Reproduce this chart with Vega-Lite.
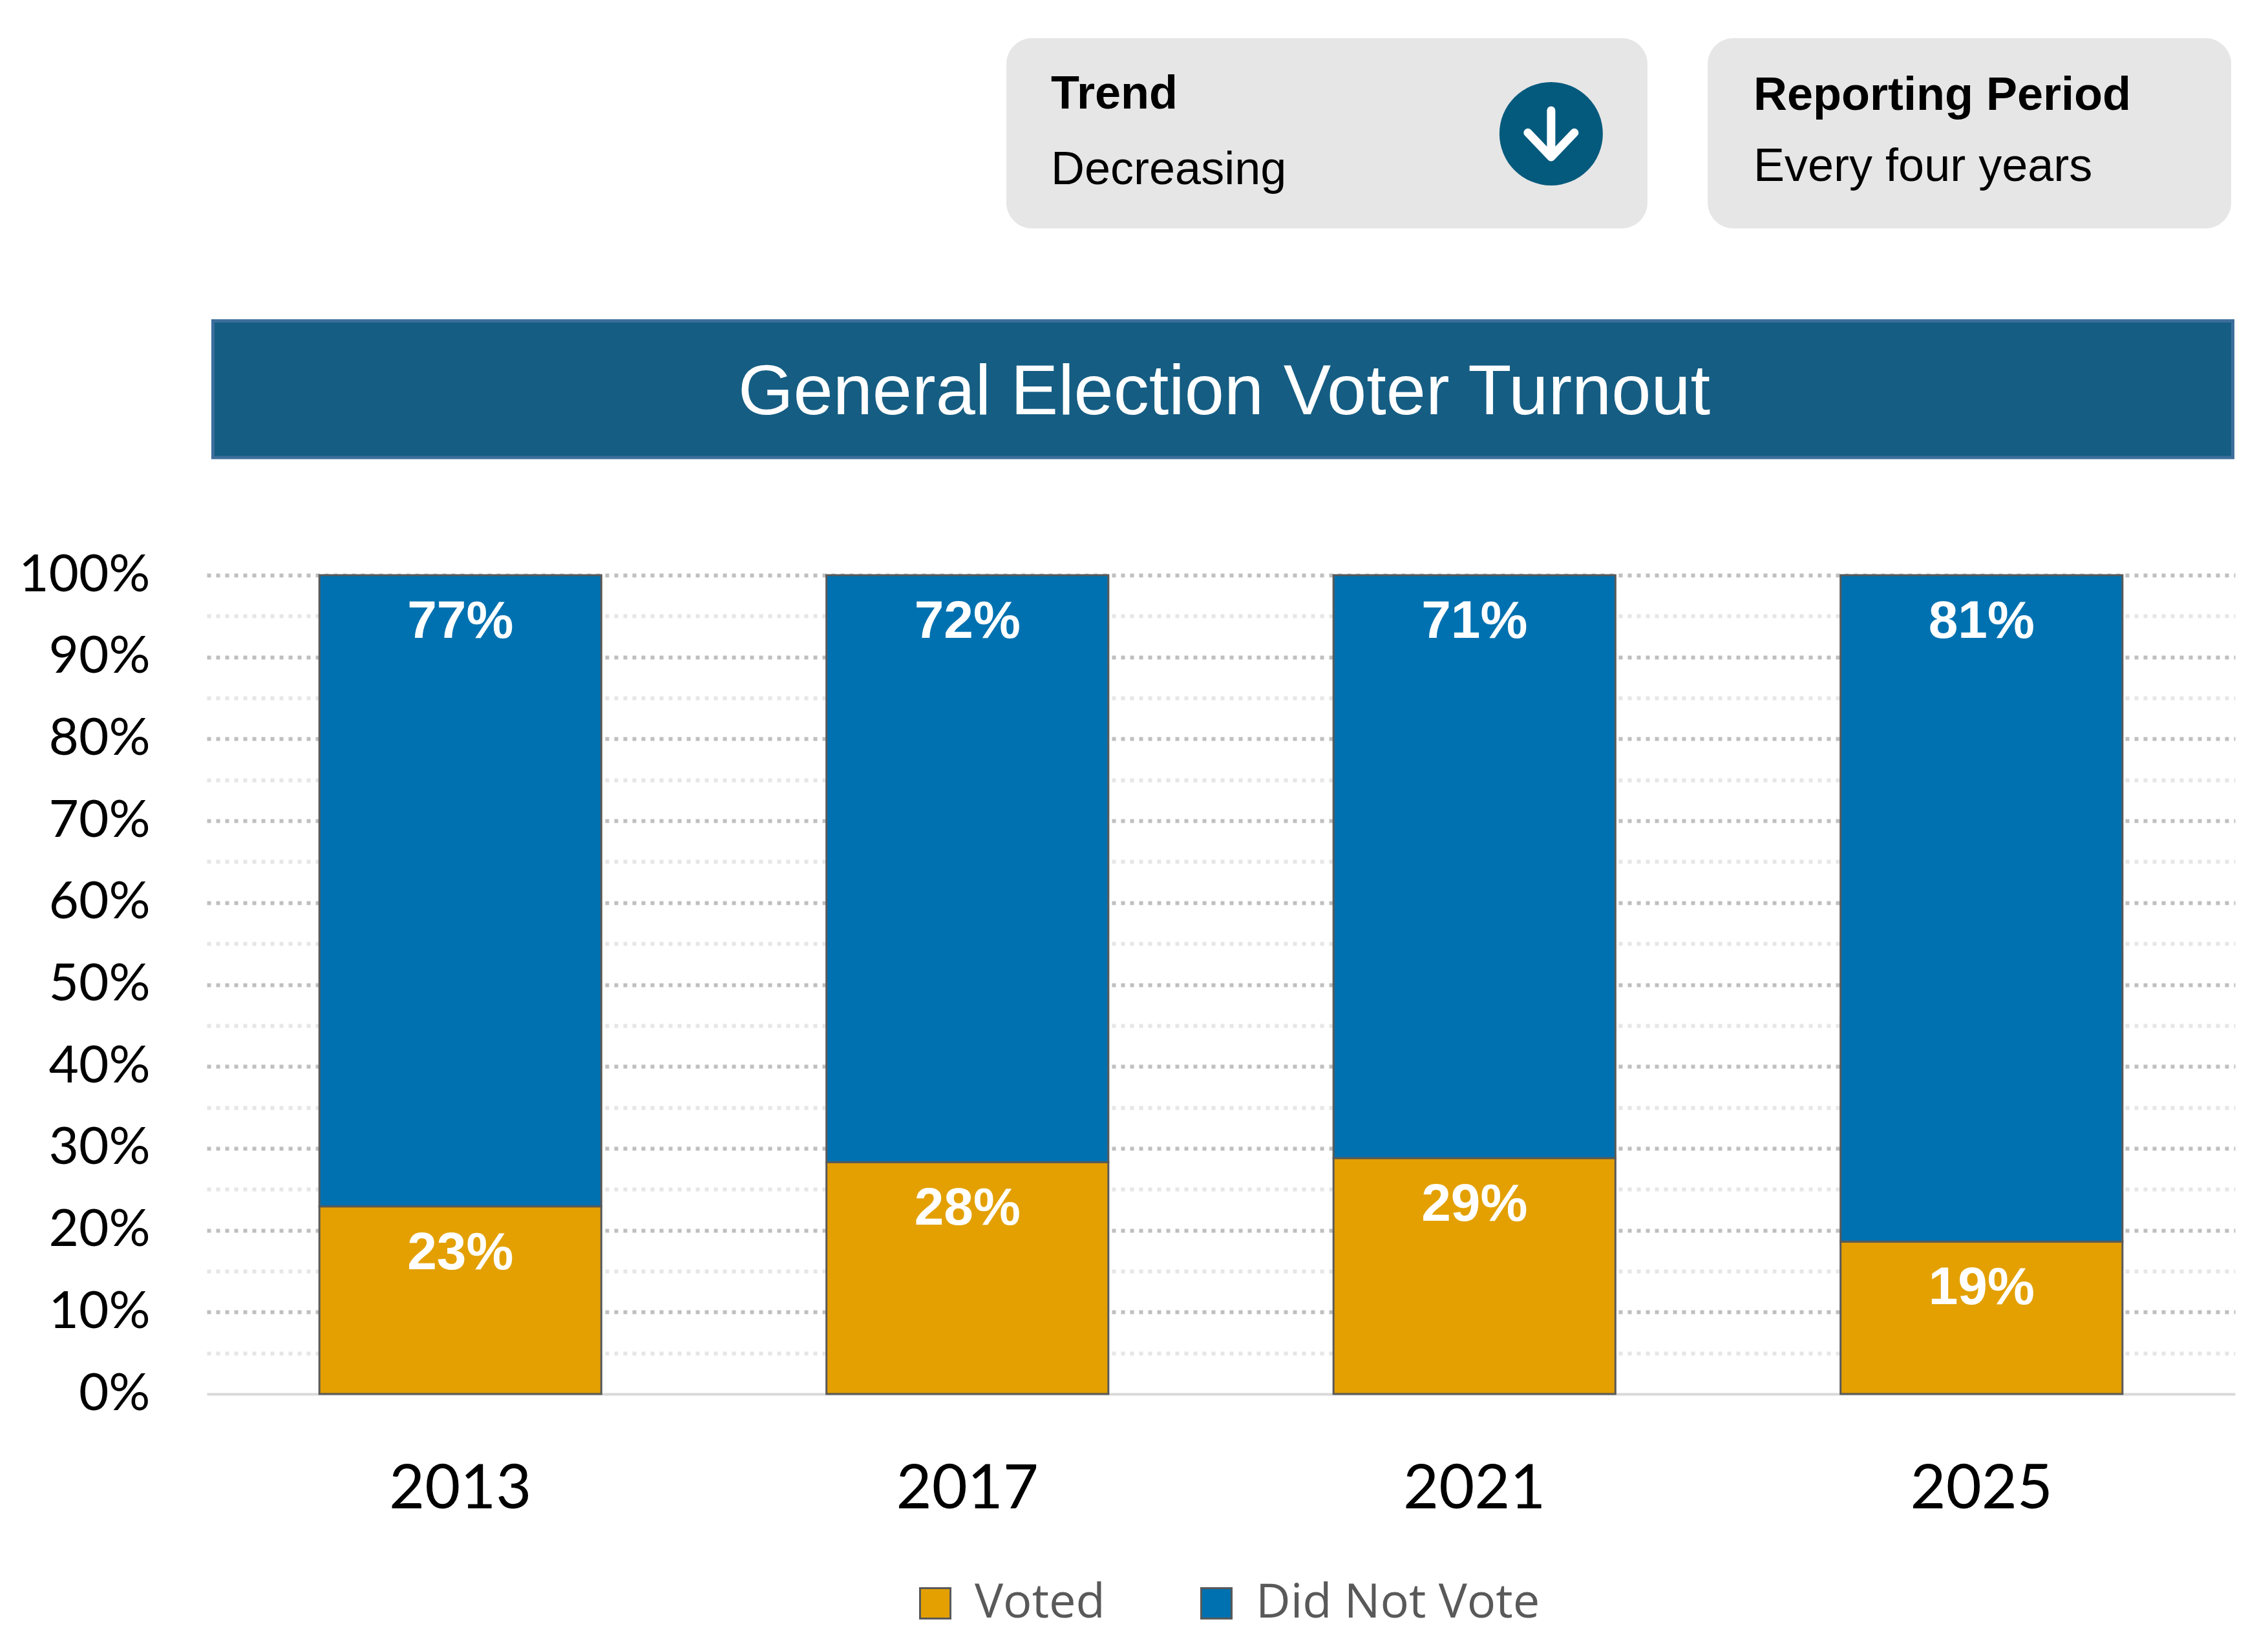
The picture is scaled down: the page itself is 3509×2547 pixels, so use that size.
{
  "$schema": "https://vega.github.io/schema/vega-lite/v6.json",
  "description": "General election voter turnout, stacked 100% bars with info cards and a banner title.",
  "autosize": {"type": "none"},
  "padding": {"left": 320, "top": 890, "right": 51, "bottom": 390},
  "width": 3138,
  "height": 1267,
  "background": "white",
  "config": {"view": {"stroke": null}},
  "datasets": {
    "turnout": [
      {"year": "2013", "status": "Voted", "pct": 0.229},
      {"year": "2013", "status": "Did Not Vote", "pct": 0.771},
      {"year": "2017", "status": "Voted", "pct": 0.283},
      {"year": "2017", "status": "Did Not Vote", "pct": 0.717},
      {"year": "2021", "status": "Voted", "pct": 0.288},
      {"year": "2021", "status": "Did Not Vote", "pct": 0.712},
      {"year": "2025", "status": "Voted", "pct": 0.186},
      {"year": "2025", "status": "Did Not Vote", "pct": 0.814}
    ],
    "cards": [
      {"card": "Trend", "value": "Decreasing"},
      {"card": "Reporting Period", "value": "Every four years"}
    ],
    "banner": [
      {"title": "General Election Voter Turnout"}
    ]
  },
  "layer": [
    {
      "data": {"name": "turnout"},
      "transform": [
        {"stack": "pct", "groupby": ["year"], "sort": [{"field": "status", "order": "descending"}], "as": ["y0", "y1"]}
      ],
      "encoding": {
        "x": {
          "field": "year",
          "type": "nominal",
          "scale": {"paddingInner": 0.444, "paddingOuter": 0.222},
          "axis": {
            "title": null,
            "labelAngle": 0,
            "labelFont": "Lato",
            "labelFontSize": 95,
            "labelColor": "#000000",
            "labelBaseline": "alphabetic",
            "labelPadding": 176,
            "labelLimit": 0,
            "ticks": false,
            "tickSize": 0,
            "grid": false,
            "domainColor": "#D9D9D9",
            "domainWidth": 4
          }
        },
        "y": {
          "field": "y1",
          "type": "quantitative",
          "scale": {"domain": [0, 1]},
          "axis": {
            "title": null,
            "values": [0, 0.05, 0.1, 0.15, 0.2, 0.25, 0.3, 0.35, 0.4, 0.45, 0.5, 0.55, 0.6, 0.65, 0.7, 0.75, 0.8, 0.85, 0.9, 0.95, 1],
            "labelExpr": "round(datum.value * 100) % 10 == 0 ? format(datum.value, '.0%') : ''",
            "labelFont": "Lato",
            "labelFontSize": 80,
            "labelColor": "#000000",
            "labelPadding": 88,
            "labelLimit": 0,
            "labelOverlap": false,
            "labelBound": false,
            "labelFlush": false,
            "ticks": false,
            "tickSize": 0,
            "domain": false,
            "grid": true,
            "gridDash": [6, 8],
            "gridWidth": 6,
            "gridColor": {"condition": {"test": "round(datum.value * 100) % 10 != 0", "value": "#E6E6E6"}, "value": "#BFBFBF"},
            "gridOpacity": {"condition": {"test": "datum.value == 0", "value": 0}, "value": 1}
          }
        }
      },
      "layer": [
        {
          "mark": {"type": "bar", "stroke": "#595959", "strokeWidth": 3},
          "encoding": {
            "y2": {"field": "y0"},
            "color": {
              "field": "status",
              "type": "nominal",
              "scale": {"domain": ["Voted", "Did Not Vote"], "range": ["#E3A000", "#0071B0"]},
              "legend": {
                "orient": "none",
                "legendX": 1090,
                "legendY": 1554,
                "direction": "horizontal",
                "title": null,
                "symbolType": "square",
                "symbolSize": 2209,
                "symbolStrokeColor": "#595959",
                "symbolStrokeWidth": 3,
                "symbolOpacity": 1,
                "labelOffset": 24,
                "labelLimit": 0,
                "columnPadding": 135,
                "labelFont": "Open Sans",
                "labelFontSize": 74,
                "labelColor": "#595959"
              }
            }
          }
        },
        {
          "mark": {"type": "text", "font": "Liberation Sans", "fontWeight": "bold", "fontSize": 82, "color": "white", "align": "center", "baseline": "alphabetic", "dy": 97},
          "encoding": {
            "text": {"field": "pct", "type": "quantitative", "format": ".0%"}
          }
        }
      ]
    },
    {
      "layer": [
        {
          "data": {"name": "banner"},
          "layer": [
            {
              "mark": {"type": "rect", "fill": "#155D83", "stroke": "#3E6E9C", "strokeWidth": 5},
              "encoding": {
                "x": {"datum": 0.003, "type": "quantitative", "scale": {"domain": [0, 1]}, "axis": null},
                "x2": {"datum": 0.9989},
                "y": {"datum": 1.3106, "type": "quantitative", "scale": {"domain": [0, 1]}, "axis": null},
                "y2": {"datum": 1.1437}
              }
            },
            {
              "mark": {"type": "text", "font": "Liberation Sans", "fontSize": 110, "color": "white", "align": "center", "baseline": "alphabetic"},
              "encoding": {
                "x": {"datum": 0.5016, "type": "quantitative", "scale": {"domain": [0, 1]}, "axis": null},
                "y": {"datum": 1.1965, "type": "quantitative", "scale": {"domain": [0, 1]}, "axis": null},
                "text": {"field": "title"}
              }
            }
          ]
        },
        {
          "data": {"name": "cards"},
          "transform": [{"filter": "datum.card == 'Trend'"}],
          "layer": [
            {
              "mark": {"type": "rect", "fill": "#E6E6E6", "cornerRadius": 40},
              "encoding": {
                "x": {"datum": 0.3942, "type": "quantitative", "scale": {"domain": [0, 1]}, "axis": null},
                "x2": {"datum": 0.7103},
                "y": {"datum": 1.6559, "type": "quantitative", "scale": {"domain": [0, 1]}, "axis": null},
                "y2": {"datum": 1.4235}
              }
            },
            {
              "mark": {"type": "text", "font": "Liberation Sans", "fontWeight": "bold", "fontSize": 72, "color": "#000000", "align": "left", "baseline": "alphabetic"},
              "encoding": {
                "x": {"datum": 0.4162, "type": "quantitative", "scale": {"domain": [0, 1]}, "axis": null},
                "y": {"datum": 1.5699, "type": "quantitative", "scale": {"domain": [0, 1]}, "axis": null},
                "text": {"field": "card"}
              }
            },
            {
              "mark": {"type": "text", "font": "Liberation Sans", "fontSize": 72, "color": "#000000", "align": "left", "baseline": "alphabetic"},
              "encoding": {
                "x": {"datum": 0.4162, "type": "quantitative", "scale": {"domain": [0, 1]}, "axis": null},
                "y": {"datum": 1.4775, "type": "quantitative", "scale": {"domain": [0, 1]}, "axis": null},
                "text": {"field": "value"}
              }
            },
            {
              "mark": {"type": "point", "shape": "circle", "filled": true, "color": "#045A7D", "opacity": 1, "size": 25600, "strokeWidth": 0},
              "encoding": {
                "x": {"datum": 0.6628, "type": "quantitative", "scale": {"domain": [0, 1]}, "axis": null},
                "y": {"datum": 1.5391, "type": "quantitative", "scale": {"domain": [0, 1]}, "axis": null}
              }
            },
            {
              "mark": {"type": "point", "shape": "M0,-0.45L0,0.45M-0.45,-0.02L0,0.45L0.45,-0.02", "filled": false, "color": "white", "opacity": 1, "size": 25600, "strokeWidth": 13, "strokeCap": "round", "strokeJoin": "round"},
              "encoding": {
                "x": {"datum": 0.6628, "type": "quantitative", "scale": {"domain": [0, 1]}, "axis": null},
                "y": {"datum": 1.5391, "type": "quantitative", "scale": {"domain": [0, 1]}, "axis": null}
              }
            }
          ]
        },
        {
          "data": {"name": "cards"},
          "transform": [{"filter": "datum.card == 'Reporting Period'"}],
          "layer": [
            {
              "mark": {"type": "rect", "fill": "#E6E6E6", "cornerRadius": 40},
              "encoding": {
                "x": {"datum": 0.74, "type": "quantitative", "scale": {"domain": [0, 1]}, "axis": null},
                "x2": {"datum": 0.9981},
                "y": {"datum": 1.6559, "type": "quantitative", "scale": {"domain": [0, 1]}, "axis": null},
                "y2": {"datum": 1.4235}
              }
            },
            {
              "mark": {"type": "text", "font": "Liberation Sans", "fontWeight": "bold", "fontSize": 72, "color": "#000000", "align": "left", "baseline": "alphabetic"},
              "encoding": {
                "x": {"datum": 0.7626, "type": "quantitative", "scale": {"domain": [0, 1]}, "axis": null},
                "y": {"datum": 1.5683, "type": "quantitative", "scale": {"domain": [0, 1]}, "axis": null},
                "text": {"field": "card"}
              }
            },
            {
              "mark": {"type": "text", "font": "Liberation Sans", "fontSize": 72, "color": "#000000", "align": "left", "baseline": "alphabetic"},
              "encoding": {
                "x": {"datum": 0.7626, "type": "quantitative", "scale": {"domain": [0, 1]}, "axis": null},
                "y": {"datum": 1.4815, "type": "quantitative", "scale": {"domain": [0, 1]}, "axis": null},
                "text": {"field": "value"}
              }
            }
          ]
        }
      ]
    }
  ],
  "resolve": {"scale": {"x": "independent", "y": "independent"}}
}
